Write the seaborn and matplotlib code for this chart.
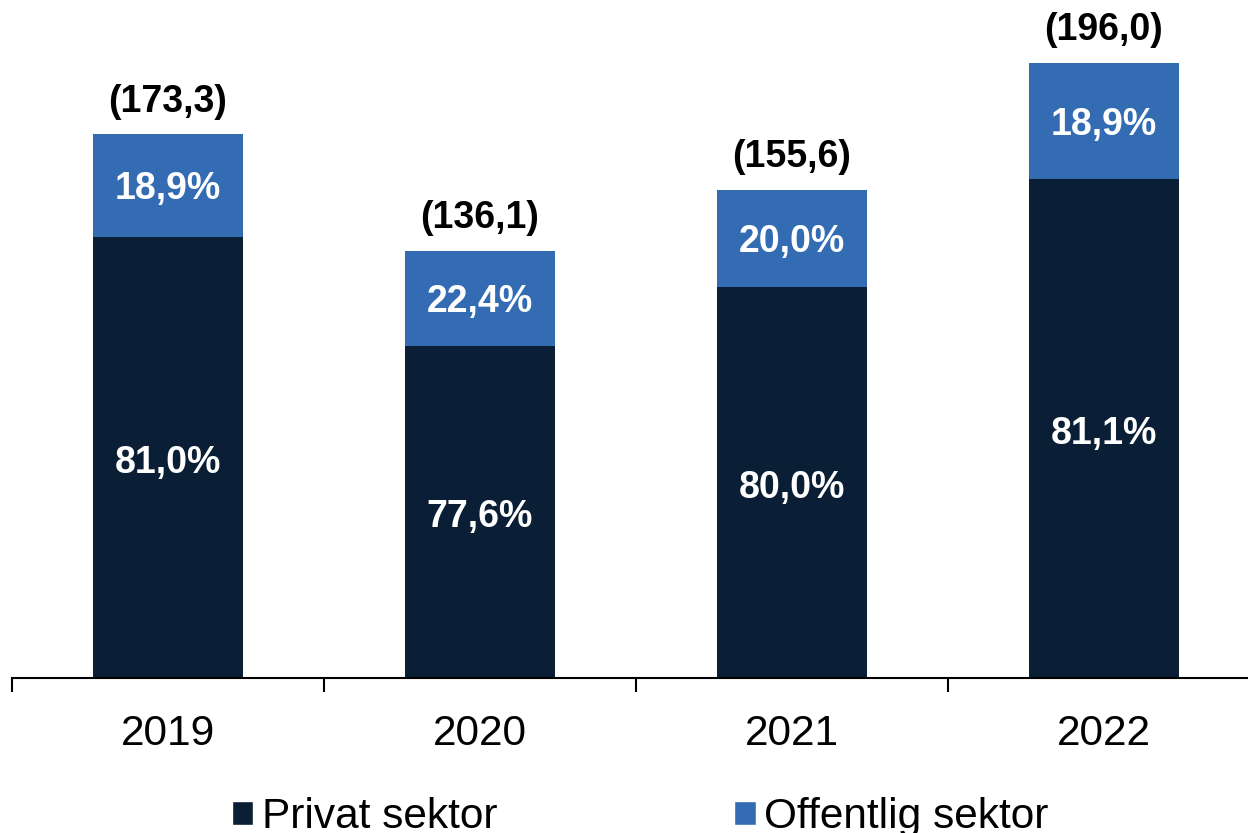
import matplotlib
matplotlib.use("Agg")
import matplotlib.pyplot as plt
import seaborn as sns
import numpy as np
from matplotlib.patches import Patch
from matplotlib.ticker import FixedLocator

sns.set_theme(style="white")
plt.rcParams['font.family'] = ['Liberation Sans', 'DejaVu Sans']

years = ["2019", "2020", "2021", "2022"]
totals = [173.3, 136.1, 155.6, 196.0]
privat_pct = [81.0, 77.6, 80.0, 81.1]
offentlig_pct = [18.9, 22.4, 20.0, 18.9]
total_labels = ["(173,3)", "(136,1)", "(155,6)", "(196,0)"]
privat_labels = ["81,0%", "77,6%", "80,0%", "81,1%"]
offentlig_labels = ["18,9%", "22,4%", "20,0%", "18,9%"]

c_priv = "#0A1F35"
c_off = "#336CB3"

privat_vals = [t * p / 100 for t, p in zip(totals, privat_pct)]
offentlig_vals = [t - p for t, p in zip(totals, privat_vals)]

fig = plt.figure(figsize=(12.48, 8.33), dpi=100)
ax = fig.add_axes([12 / 1248, 1 - 678 / 833, 1.0, 678 / 833])

sns.barplot(x=years, y=privat_vals, color=c_priv, width=0.48, ax=ax,
            saturation=1, linewidth=0)
sns.barplot(x=years, y=offentlig_vals, bottom=privat_vals, color=c_off, width=0.48,
            ax=ax, saturation=1, linewidth=0)

ax.set_ylim(0, 216)
ax.set_xlim(-0.5, 3.5)

for i in range(len(years)):
    ax.text(i, privat_vals[i] / 2 - 1.6, privat_labels[i], ha="center", va="center",
            color="white", fontsize=27, fontweight="bold")
    ax.text(i, privat_vals[i] + offentlig_vals[i] / 2 - 1.2, offentlig_labels[i],
            ha="center", va="center", color="white", fontsize=27, fontweight="bold")
    ax.text(i, totals[i] + 10.3, total_labels[i], ha="center", va="center",
            color="black", fontsize=27, fontweight="bold")

for s in ["top", "right", "left"]:
    ax.spines[s].set_visible(False)
ax.spines["bottom"].set_linewidth(1.5)
ax.spines["bottom"].set_color("black")
ax.set_yticks([])
ax.tick_params(axis="x", which="major", length=0, labelsize=30.5, pad=26, colors="black")
ax.xaxis.set_minor_locator(FixedLocator([-0.5, 0.5, 1.5, 2.5, 3.5]))
ax.tick_params(axis="x", which="minor", length=10, width=1.5, color="black", bottom=True)
ax.set_xlabel("")
ax.set_ylabel("")

handles = [Patch(facecolor=c_priv, label="Privat sektor"),
           Patch(facecolor=c_off, label="Offentlig sektor")]
fig.legend(handles=handles, loc="upper center", bbox_to_anchor=(0.513, 0.064),
           ncol=2, frameon=False, fontsize=30.5, handlelength=0.5, handleheight=0.5,
           handletextpad=0.2, columnspacing=5.6, borderaxespad=0, labelcolor="black")

fig.savefig("out.png", dpi=100)
